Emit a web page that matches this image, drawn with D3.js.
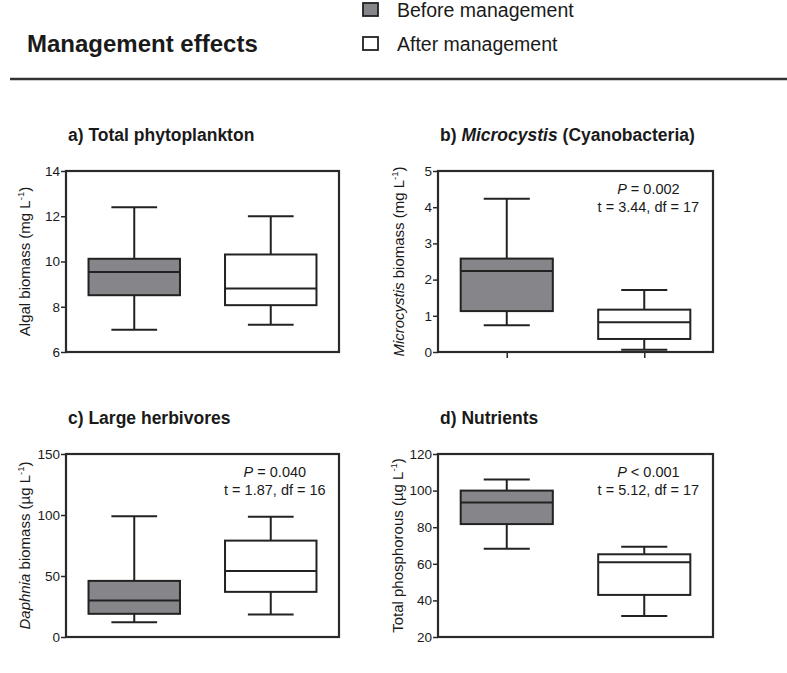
<!DOCTYPE html>
<html><head><meta charset="utf-8">
<script src="https://cdn.jsdelivr.net/npm/d3@7"></script>
<style>body{margin:0;background:#fff} text{font-family:Arial,"Liberation Sans",sans-serif;fill:#1a1a1a}</style>
</head><body><svg id="chart" width="787" height="673"></svg>
<script>
// ---- data (five-number summaries: min, Q1, median, Q3, max) ----
const groups = ["Before management", "After management"];
const phytoBefore = [6.98, 8.51, 9.54, 10.12, 12.4];
const phytoAfter  = [7.2, 8.07, 8.81, 10.31, 12.0];
const phytoTicks  = [6, 8, 10, 12, 14];
const microBefore = [0.74, 1.13, 2.24, 2.58, 4.23];
const microAfter  = [0.06, 0.36, 0.82, 1.17, 1.71];
const microTicks  = [0, 1, 2, 3, 4, 5];
const daphBefore  = [12, 19, 30, 46, 99];
const daphAfter   = [18.5, 37, 54, 79, 98.5];
const daphTicks   = [0, 50, 100, 150];
const tpBefore    = [68.2, 81.7, 93.5, 100, 106];
const tpAfter     = [31.5, 43, 60.8, 65.2, 69.3];
const tpTicks     = [20, 40, 60, 80, 100, 120];
const statsB = ["P = 0.002", "t = 3.44, df = 17"];
const statsC = ["P = 0.040", "t = 1.87, df = 16"];
const statsD = ["P < 0.001", "t = 5.12, df = 17"];

const fills = ["#86868a", "#ffffff"];
const ink = "#222";

const svg = d3.select("#chart");

// header
svg.append("text").attr("x", 27).attr("y", 52).attr("font-size", 24).attr("font-weight", "bold")
  .text("Management effects");
svg.append("line").attr("x1", 10).attr("x2", 787).attr("y1", 79).attr("y2", 79)
  .attr("stroke", "#333").attr("stroke-width", 2.5);

// legend
const leg = svg.append("g");
groups.forEach((g, i) => {
  const y0 = 3 + i * 34;
  leg.append("rect").attr("x", 363).attr("y", y0).attr("width", 15).attr("height", 13)
    .attr("fill", fills[i]).attr("stroke", ink).attr("stroke-width", 1.8);
  leg.append("text").attr("x", 397).attr("y", y0 + 14).attr("font-size", 19.5).text(g);
});

const panels = [
  {title: [["a) Total phytoplankton", "normal"]], x: 66, y: 171, w: 273, h: 181,
   data: [phytoBefore, phytoAfter], ticks: phytoTicks, dom: [6, 14],
   ylab: [["Algal biomass (mg L", "normal"]], labX: 30, stats: null, xticks: false},
  {title: [["b) ", "normal"], ["Microcystis", "italic"], [" (Cyanobacteria)", "normal"]], x: 438, y: 171, w: 275, h: 181,
   data: [microBefore, microAfter], ticks: microTicks, dom: [0, 5],
   ylab: [["Microcystis", "italic"], [" biomass (mg L", "normal"]], labX: 404, stats: statsB, xticks: true},
  {title: [["c) Large herbivores", "normal"]], x: 66, y: 454, w: 273, h: 183,
   data: [daphBefore, daphAfter], ticks: daphTicks, dom: [0, 150],
   ylab: [["Daphnia", "italic"], [" biomass (\u00b5g L", "normal"]], labX: 30, stats: statsC, xticks: false},
  {title: [["d) Nutrients", "normal"]], x: 438, y: 454, w: 275, h: 183,
   data: [tpBefore, tpAfter], ticks: tpTicks, dom: [20, 120],
   ylab: [["Total phosphorous (\u00b5g L", "normal"]], labX: 403, stats: statsD, xticks: false}
];

panels.forEach(p => {
  const g = svg.append("g");
  const yS = d3.scaleLinear().domain(p.dom).range([p.y + p.h, p.y]);
  const xS = d3.scalePoint().domain(groups).range([p.x, p.x + p.w]).padding(0.5);
  const boxW = xS.step() * 0.67;
  const capW = boxW / 2;

  // title
  const t = g.append("text").attr("x", p.x + 2).attr("y", p.y - 30).attr("font-size", 17.5).attr("font-weight", "bold");
  p.title.forEach(([s, st]) => t.append("tspan").attr("font-style", st).text(s));

  // frame
  g.append("rect").attr("x", p.x).attr("y", p.y).attr("width", p.w).attr("height", p.h)
    .attr("fill", "none").attr("stroke", "#2a2a2a").attr("stroke-width", 2.2);

  // y axis
  const ax = g.append("g").attr("transform", `translate(${p.x},0)`)
    .call(d3.axisLeft(yS).tickValues(p.ticks).tickSize(5).tickPadding(1).tickFormat(d3.format("d")));
  ax.select(".domain").remove();
  ax.selectAll(".tick line").attr("stroke", "#2a2a2a").attr("stroke-width", 1.5);
  ax.selectAll(".tick text").attr("font-size", 13.5).attr("fill", "#1a1a1a")
    .attr("font-family", "Arial, 'Liberation Sans', sans-serif");

  if (p.xticks) {
    const xa = g.append("g").attr("transform", `translate(0,${p.y + p.h})`)
      .call(d3.axisBottom(xS).tickSize(6).tickFormat(""));
    xa.select(".domain").remove();
    xa.selectAll(".tick line").attr("stroke", "#2a2a2a").attr("stroke-width", 1.5);
  }

  // y label
  const yl = g.append("text").attr("transform", `translate(${p.labX},${p.y + p.h / 2}) rotate(-90)`)
    .attr("text-anchor", "middle").attr("font-size", 15);
  p.ylab.forEach(([s, st]) => yl.append("tspan").attr("font-style", st).text(s));
  yl.append("tspan").attr("font-size", 9.5).attr("dy", -6).text("-1");
  yl.append("tspan").attr("dy", 6).text(")");

  // boxes
  p.data.forEach((v, i) => {
    const cx = xS(groups[i]);
    const [mn, q1, md, q3, mx] = v;
    const bg = g.append("g").attr("stroke", ink).attr("stroke-width", 2);
    bg.append("line").attr("x1", cx).attr("x2", cx).attr("y1", yS(mx)).attr("y2", yS(q3));
    bg.append("line").attr("x1", cx).attr("x2", cx).attr("y1", yS(q1)).attr("y2", yS(mn));
    bg.append("line").attr("x1", cx - capW / 2).attr("x2", cx + capW / 2).attr("y1", yS(mx)).attr("y2", yS(mx));
    bg.append("line").attr("x1", cx - capW / 2).attr("x2", cx + capW / 2).attr("y1", yS(mn)).attr("y2", yS(mn));
    bg.append("rect").attr("x", cx - boxW / 2).attr("y", yS(q3)).attr("width", boxW).attr("height", yS(q1) - yS(q3))
      .attr("fill", fills[i]);
    bg.append("line").attr("x1", cx - boxW / 2).attr("x2", cx + boxW / 2).attr("y1", yS(md)).attr("y2", yS(md));
  });

  // stats
  if (p.stats) {
    const sx = p.x + p.w * 0.765;
    const s1 = g.append("text").attr("x", sx).attr("y", p.y + 23).attr("text-anchor", "middle").attr("font-size", 14.5);
    s1.append("tspan").attr("font-style", "italic").text(p.stats[0].slice(0, 1));
    s1.append("tspan").text(p.stats[0].slice(1));
    g.append("text").attr("x", sx).attr("y", p.y + 40.5).attr("text-anchor", "middle").attr("font-size", 14.5)
      .text(p.stats[1]);
  }
});
</script></body></html>
